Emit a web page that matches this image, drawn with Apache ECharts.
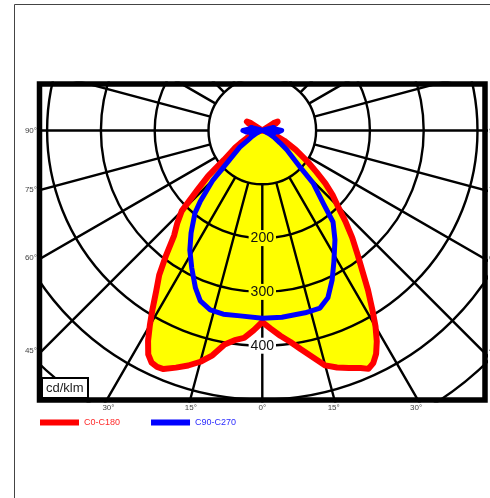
<!DOCTYPE html>
<html><head><meta charset="utf-8">
<script src="https://cdn.jsdelivr.net/npm/echarts@6/dist/echarts.min.js"></script>
<style>html,body{margin:0;padding:0;background:#fff}#c{width:490px;height:498px}</style>
</head><body><div id="c"></div>
<script>
// ---- data (gamma angle in degrees from nadir, luminous intensity in cd/klm) ----
const anglesC0 = [0,2.5,5,7.5,10,12.5,15,17.5,20,22.5,24,25.5,27,28.5,30,31.5,33.5,35.5,37.5,40,42.5,45,47.5,50,52.5,55,57.5,60,65,70,75,80,90,100,110,117,120,123,130,180];
const valuesC0 = [356,369,383,396,413,431,452,462,470,478,485,479,466,446,421,392,356,320,291,260,228,198,177,153,127,106,86,72,45,25,12,5,0,0,8,28,33,25,0,0];
const anglesC180 = [0,2.5,5,7.5,10,12.5,15,17.5,20,22.5,24,25.5,27,28.5,30,31.5,33.5,35.5,37.5,40,42.5,45,47.5,50,52.5,55,57.5,60,65,70,75,80,90,100,110,117,120,123,130,180];
const valuesC180 = [356,372,387,393,404,428,445,458,469,480,481,478,467,445,418,391,357,330,295,255,234,212,164,131,90,72,60,47,29,18,10,4,0,0,8,28,33,25,0,0];
const anglesC90 = [0,6,13.2,18,21.4,25,28.6,33.6,37.7,40,44,45.9,51.7,55,60,65,70,75,80,85,90,95,100,105,110,120,180];
const valuesC90 = [349,349,348,347,334,307,278,244,215,176,136,98,58,40,25,14,5,22,10,30,36,26,12,22,6,0,0];
const anglesC270 = [0,6.8,12,16.2,20,23,27.2,31.2,34.8,39.2,41.1,44.9,47.4,53.5,56.4,60,65,70,75,80,85,90,95,100,105,110,120,180];
const valuesC270 = [349,347,349,347,337,318,287,260,232,198,176,130,89,52,32,22,12,5,22,10,30,36,26,12,22,6,0,0];
const seriesNames = ['C0-C180', 'C90-C270'];
const ringLabels = [200, 300, 400];
const sideTicks = [90, 75, 60, 45];
const bottomTicks = [-30, -15, 0, 15, 30];
const unitLabel = 'cd/klm';

// ---- layout / style ----
const CX = 262.3, CY = 130.5, PX100 = 53.8;
const BOX = {l: 42, r: 482, t: 87, b: 397};
const FONT = '"Liberation Sans", Arial, Helvetica, sans-serif';
const ringLabelBg = ['#ffff00', '#ffff00', '#ffffff'];
const RED = '#ff0000', BLUE = '#0000ff', YELLOW = '#ffff00';
const GRID_W = 2.4;

function half(angles, values, side) {
  return angles.map((a, i) => [values[i], side > 0 ? a : 360 - a]);
}
function curve(ra, rv, la, lv) {
  return half(ra, rv, 1).reverse().concat(half(la, lv, -1));
}
const redPts = curve(anglesC0, valuesC0, anglesC180, valuesC180);
const bluePts = curve(anglesC90, valuesC90, anglesC270, valuesC270);

const chart = echarts.init(document.getElementById('c'), null, {renderer: 'canvas'});

const graphics = [];
[[0,0,490,81.5],[0,0,37,498],[488,0,10,498],[0,402.5,490,100]].forEach(r => {
  graphics.push({type:'rect', z:100, silent:true, shape:{x:r[0],y:r[1],width:r[2],height:r[3]}, style:{fill:'#fff'}});
});
graphics.push({type:'rect', z:101, silent:true, shape:{x:14.5,y:4.5,width:600,height:600}, style:{fill:null, stroke:'#444', lineWidth:1}});
graphics.push({type:'rect', z:101, silent:true, shape:{x:39.5,y:84,width:445.5,height:316}, style:{fill:null, stroke:'#000', lineWidth:5.5}});
graphics.push({type:'rect', z:101, silent:true, shape:{x:42,y:378,width:46,height:20}, style:{fill:'#fff', stroke:'#000', lineWidth:2}});
graphics.push({type:'text', z:102, silent:true, x:46, y:388.5, style:{text:unitLabel, font:'13px '+FONT, fill:'#222', align:'left', verticalAlign:'middle'}});
sideTicks.forEach(g => {
  const t = Math.tan(g*Math.PI/180);
  const yl = g === 90 ? CY : CY + (CX - BOX.l)/t;
  const yr = g === 90 ? CY : CY + (BOX.r - CX)/t;
  graphics.push({type:'text', z:102, silent:true, x:37, y:yl, style:{text:g+'°', font:'8px '+FONT, fill:'#444', align:'right', verticalAlign:'middle'}});
  graphics.push({type:'text', z:102, silent:true, x:489, y:yr, style:{text:g+'°', font:'8px '+FONT, fill:'#444', align:'left', verticalAlign:'middle'}});
});
bottomTicks.forEach(g => {
  const x = CX + (BOX.b - CY)*Math.tan(g*Math.PI/180);
  graphics.push({type:'text', z:102, silent:true, x:x, y:408, style:{text:Math.abs(g)+'°', font:'8px '+FONT, fill:'#444', align:'center', verticalAlign:'middle'}});
});

function curveSeries(name, pts, color, width, z) {
  return {
    name: name, type: 'custom', coordinateSystem: 'polar', z: z, silent: true,
    data: [[100, 0]], itemStyle: {color: color},
    renderItem: (params, api) => ({
      type: 'polyline',
      shape: {points: pts.map(p => api.coord(p))},
      style: {fill: null, stroke: color, lineWidth: width, lineJoin: 'round', lineCap: 'round'}
    })
  };
}

chart.setOption({
  animation: false,
  backgroundColor: '#fff',
  polar: {center: [CX, CY], radius: [PX100, PX100*7]},
  angleAxis: {
    type: 'value', min: 0, max: 360, interval: 15, startAngle: 270, clockwise: false, z: 3,
    axisLine: {show: false}, axisTick: {show: false}, axisLabel: {show: false},
    splitLine: {show: true, lineStyle: {color: '#000', width: GRID_W}}
  },
  radiusAxis: {
    type: 'value', min: 100, max: 700, interval: 100, z: 3,
    axisLine: {show: false}, axisTick: {show: false}, axisLabel: {show: false},
    splitLine: {show: true, lineStyle: {color: '#000', width: GRID_W}}
  },
  legend: {
    z: 200, left: 40, top: 418, icon: 'rect', itemWidth: 39, itemHeight: 6, itemGap: 31, padding: 0,
    selectedMode: false,
    textStyle: {fontSize: 9, fontFamily: FONT},
    data: [
      {name: seriesNames[0], itemStyle: {color: RED}, textStyle: {color: '#ff2a2a'}},
      {name: seriesNames[1], itemStyle: {color: BLUE}, textStyle: {color: '#2a2aff'}}
    ]
  },
  series: [
    {
      type: 'custom', coordinateSystem: 'polar', z: 1, silent: true, data: [[100, 0]],
      renderItem: (params, api) => ({
        type: 'group',
        children: [
          {type: 'polygon', shape: {points: redPts.map(p => api.coord(p))}, style: {fill: YELLOW}},
          {type: 'polygon', shape: {points: bluePts.map(p => api.coord(p))}, style: {fill: YELLOW}}
        ]
      })
    },
    curveSeries(seriesNames[0], redPts, RED, 6, 5),
    curveSeries(seriesNames[1], bluePts, BLUE, 5, 6),
    {
      type: 'custom', coordinateSystem: 'polar', z: 4, silent: true,
      data: ringLabels.map(v => [v, 0]),
      renderItem: (params, api) => {
        const p = api.coord([api.value(0), 0]);
        return {type: 'text', x: p[0], y: p[1], style: {
          text: String(api.value(0)), font: '14px ' + FONT, fill: '#111',
          align: 'center', verticalAlign: 'middle',
          backgroundColor: ringLabelBg[params.dataIndex], padding: [1, 2]
        }};
      }
    }
  ],
  graphic: {elements: graphics}
});
</script></body></html>
